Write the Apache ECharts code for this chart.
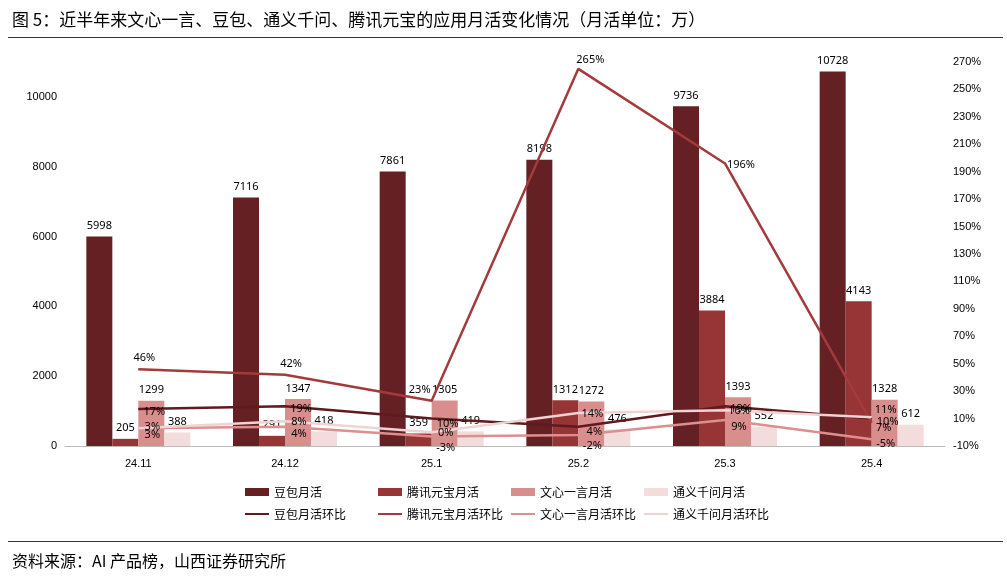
<!DOCTYPE html>
<html>
<head>
<meta charset="utf-8">
<script src="https://cdn.jsdelivr.net/npm/echarts@6/dist/echarts.min.js"></script>
<style>
body{margin:0;background:#fff;}
#title{position:absolute;left:12px;top:6px;font:17px "Noto Sans CJK SC";color:#000;}
#l1{position:absolute;left:8px;top:37px;width:995px;border-top:1px solid #333;}
#l2{position:absolute;left:8px;top:541px;width:995px;border-top:1px solid #333;}
#src{position:absolute;left:12px;top:548px;font:16px "Noto Sans CJK SC";color:#000;}
#chart{position:absolute;left:0;top:0;width:1007px;height:580px;}
</style>
</head>
<body>
<div id="chart"></div>
<div id="title">图 5：近半年来文心一言、豆包、通义千问、腾讯元宝的应用月活变化情况（月活单位：万）</div>
<div id="l1"></div>
<div id="l2"></div>
<div id="src">资料来源：AI 产品榜，山西证券研究所</div>
<script>
var months=["24.11","24.12","25.1","25.2","25.3","25.4"];
var doubao=[5998,7116,7861,8198,9736,10728];
var yuanbao=[205,291,359,1312,3884,4143];
var wenxin=[1299,1347,1305,1272,1393,1328];
var qianwen=[388,418,419,476,552,612];
var doubaoRate=[17,19,10,4,19,10];
var yuanbaoRate=[46,42,23,265,196,7];
var wenxinRate=[3,4,-3,-2,9,-5];
var qianwenRate=[3,8,0,14,16,11];
var barNames=["豆包月活","腾讯元宝月活","文心一言月活","通义千问月活"];
var lineNames=["豆包月活环比","腾讯元宝月活环比","文心一言月活环比","通义千问月活环比"];

var chart=echarts.init(document.getElementById("chart"));
var lbl={show:true,position:"top",color:"#000",fontSize:11,fontFamily:"Noto Sans"};
function bar(name,data,color){
    return {name:name,type:"bar",data:data,barWidth:26,barGap:"0%",
        itemStyle:{color:color},label:lbl};
}
// label offsets per point so the crowded percent labels sit like the original
function line(name,data,color,pos,offs){
    var d=data.map(function(v,i){
        return {value:v,label:{offset:offs[i]}};
    });
    return {name:name,type:"line",yAxisIndex:1,data:d,symbol:"circle",symbolSize:1,
        lineStyle:{color:color,width:2.5},itemStyle:{color:color},
        label:{show:true,position:pos,distance:3,color:"#000",fontSize:11,fontFamily:"Noto Sans",formatter:"{c}%"}};
}
var legText={fontSize:12,color:"#000",fontFamily:"Noto Sans CJK SC"};
var lineIcon="path://M0,4H24V6H0Z";
var legends=[];
for(var i=0;i<4;i++){
    legends.push({top:481,left:240+i*133,itemWidth:24,itemHeight:8,textStyle:legText,icon:"rect",data:[barNames[i]]});
    legends.push({top:503,left:240+i*133,itemWidth:24,itemHeight:8,textStyle:legText,data:[{name:lineNames[i],icon:lineIcon}]});
}
chart.setOption({
    animation:false,
    grid:{left:65,right:62,top:62,bottom:134},
    legend:legends,
    xAxis:{type:"category",data:months,
        axisLine:{lineStyle:{color:"#bbb"}},axisTick:{show:false},
        axisLabel:{color:"#000",fontSize:11,margin:12}},
    yAxis:[
        {type:"value",min:0,max:11000,interval:2000,splitLine:{show:false},
            axisLabel:{color:"#000",fontSize:11,
                formatter:function(v){return v>10000?"":v;}}},
        {type:"value",min:-10,max:270,interval:20,splitLine:{show:false},
            axisLabel:{color:"#000",fontSize:11,formatter:"{value}%"}}
    ],
    series:[
        bar(barNames[0],doubao,"#652024"),
        bar(barNames[1],yuanbao,"#963436"),
        bar(barNames[2],wenxin,"#D98E8E"),
        bar(barNames[3],qianwen,"#F3DCDC"),
        line(lineNames[0],doubaoRate,"#5E1A1E","bottom",[[16,-6],[16,-6],[16,-4],[16,-4],[16,-6],[16,-6]]),
        line(lineNames[1],yuanbaoRate,"#A33A3C","top",[[6,-2],[6,-2],[-12,-2],[12,0],[16,10],[12,14]]),
        line(lineNames[2],wenxinRate,"#DC8F8F","bottom",[[14,-2],[14,-2],[14,2],[14,2],[14,-2],[14,-4]]),
        line(lineNames[3],qianwenRate,"#F1D3D3","top",[[14,8],[14,10],[14,10],[14,10],[14,10],[14,2]])
    ]
});
</script>
</body>
</html>
